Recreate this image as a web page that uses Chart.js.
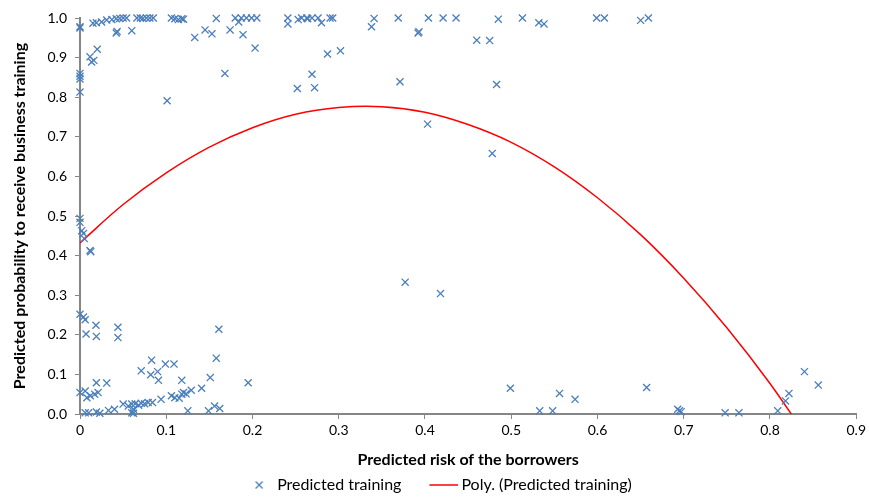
<!DOCTYPE html>
<html>
<head>
<meta charset="utf-8">
<script src="https://cdn.jsdelivr.net/npm/chart.js@4"></script>
<style>
html,body{margin:0;padding:0;background:#fff;}
#wrap{width:869px;height:501px;position:relative;}
</style>
</head>
<body>
<div id="wrap"><canvas id="c"></canvas></div>
<script>
// Predicted risk of the borrowers (x) and predicted probability to receive training (y)
const riskX = [
  0,0,0,0,0,0,
  0.0116,0.0135,0.016,0.020,
  0.015,0.019,0.025,0.031,0.037,0.042,0.046,0.050,0.054,0.066,0.070,0.073,0.077,0.081,0.085,0.106,0.110,0.114,0.118,0.120,0.158,0.180,0.184,0.187,0.193,0.199,0.205,
  0.042,0.043,0.060,0.101,0.133,0.145,0.153,0.168,0.174,0.189,0.203,
  0.241,0.241,0.252,0.253,0.257,0.263,0.264,0.269,0.269,0.272,0.276,0.280,0.287,0.290,0.293,0.302,
  0.338,0.341,0.369,0.371,0.392,0.393,0.403,0.404,0.421,0.436,0.460,0.475,0.478,0.483,0.485,0.513,0.532,0.538,0.599,0.608,0.650,0.659,
  0,0,0.002,0.004,0.005,0.0116,0.0125,0.377,0.418,
  0,0.004,0.006,0.007,0.0185,0.019,0.044,0.044,0.161,0.158,0.195,
  0,0.006,0.008,0.012,0.019,0.017,0.021,0.031,
  0.006,0.010,0.019,0.023,
  0.033,0.040,0.050,0.056,0.060,0.062,0.064,0.068,0.071,0.075,0.079,0.084,0.060,0.062,
  0.071,0.083,0.082,0.090,0.091,0.094,0.099,0.109,0.106,0.110,0.115,0.118,0.120,0.123,0.118,0.129,0.125,0.141,0.151,0.149,0.156,0.162,
  0.499,0.533,0.548,0.556,0.574,0.657,0.693,0.695,0.697,0.748,0.764,0.809,0.818,0.822,0.840,0.856
];
const probY = [
  0.978,0.975,0.860,0.853,0.846,0.813,
  0.902,0.889,0.893,0.921,
  0.987,0.988,0.990,0.995,0.996,0.998,0.999,1.000,1.000,1.000,1.000,0.999,1.000,1.000,1.000,1.000,0.998,0.996,0.998,0.997,0.999,1.000,0.990,1.000,1.000,1.000,1.000,
  0.962,0.966,0.968,0.791,0.951,0.970,0.960,0.860,0.970,0.958,0.924,
  1.000,0.985,0.822,0.996,1.000,1.000,0.998,1.000,0.858,0.824,1.000,0.988,0.909,1.000,1.000,0.917,
  0.978,0.999,1.000,0.839,0.962,0.965,0.732,1.000,1.000,1.000,0.944,0.943,0.658,0.832,0.997,1.000,0.988,0.985,1.000,1.000,0.994,1.000,
  0.494,0.484,0.463,0.456,0.443,0.413,0.410,0.333,0.304,
  0.252,0.245,0.238,0.202,0.224,0.196,0.219,0.193,0.214,0.141,0.079,
  0.054,0.058,0.041,0.046,0.079,0.050,0.054,0.078,
  0.003,0.003,0.005,0.002,
  0.009,0.012,0.025,0.020,0.025,0.012,0.026,0.022,0.027,0.026,0.029,0.029,0.003,0.002,
  0.109,0.136,0.099,0.107,0.085,0.037,0.126,0.126,0.046,0.041,0.040,0.050,0.054,0.051,0.085,0.060,0.008,0.065,0.092,0.008,0.020,0.014,
  0.065,0.008,0.008,0.052,0.037,0.067,0.012,0.008,0.006,0.003,0.003,0.008,0.033,0.052,0.107,0.073
];
// Poly. trendline, values
const trendX = [0,0.05,0.10,0.15,0.20,0.25,0.30,0.35,0.40,0.45,0.50,0.55,0.60,0.65,0.70,0.75,0.80,0.85];
const trendY = [0.432,0.529,0.609,0.674,0.723,0.757,0.774,0.776,0.762,0.731,0.686,0.624,0.546,0.453,0.343,0.218,0.077,-0.082];
const xTicks = [0,0.1,0.2,0.3,0.4,0.5,0.6,0.7,0.8,0.9];
const yTicks = [0,0.1,0.2,0.3,0.4,0.5,0.6,0.7,0.8,0.9,1.0];
const seriesNames = ['Predicted training','Poly. (Predicted training)'];

const BLUE = '#4a7ebb';
const RED = '#ff0000';
const AXIS = '#868686';
const FONT = 'Lato, "Open Sans", sans-serif';

function legendX(){
  const c = document.createElement('canvas'); c.width = 34; c.height = 14;
  const g = c.getContext('2d'); g.strokeStyle = BLUE; g.lineWidth = 1.3;
  const cx = 29, cy = 7, h = 3.5;
  g.beginPath(); g.moveTo(cx-h,cy-h); g.lineTo(cx+h,cy+h); g.moveTo(cx+h,cy-h); g.lineTo(cx-h,cy+h); g.stroke();
  return c;
}
function legendLine(){
  const c = document.createElement('canvas'); c.width = 54; c.height = 4;
  const g = c.getContext('2d'); g.strokeStyle = RED; g.lineWidth = 1.5;
  g.beginPath(); g.moveTo(25,2); g.lineTo(54,2); g.stroke();
  return c;
}
const legendImgs = [legendX(), legendLine()];

const scatterPts = riskX.map((x,i)=>({x:x, y:probY[i]}));
const trendPts = trendX.map((x,i)=>({x:x, y:trendY[i]}));

new Chart(document.getElementById('c'), {
  type: 'scatter',
  data: {
    datasets: [
      { label: seriesNames[0], data: scatterPts, pointStyle: 'crossRot', pointRadius: 5, pointHoverRadius: 5,
        borderColor: BLUE, backgroundColor: BLUE, pointBorderWidth: 1.3, showLine: false, clip: false },
      { label: seriesNames[1], data: trendPts, type: 'line', showLine: true, pointRadius: 0, borderColor: RED,
        backgroundColor: RED, borderWidth: 1.5, tension: 0.4, fill: false }
    ]
  },
  options: {
    responsive: true, maintainAspectRatio: false, animation: false,
    layout: { padding: { top: 18, right: 12, left: 0, bottom: -2 } },
    plugins: {
      tooltip: { enabled: false },
      legend: {
        position: 'bottom',
        labels: {
          usePointStyle: true, pointStyleWidth: 44, padding: 8,
          font: { family: FONT, size: 16 }, color: '#000',
          generateLabels: (chart) => chart.data.datasets.map((ds,i)=>({
            text: ds.label, pointStyle: legendImgs[i], fillStyle: ds.borderColor, strokeStyle: ds.borderColor,
            lineWidth: 0, hidden: false, datasetIndex: i
          }))
        }
      }
    },
    scales: {
      x: {
        type: 'linear', min: 0, max: 0.9,
        afterBuildTicks: (s) => { s.ticks = xTicks.map(v=>({value:v})); },
        afterFit: (s) => { s.height = 55; },
        grid: { drawOnChartArea: false, drawTicks: true, tickLength: 5, color: AXIS, lineWidth: 1 },
        border: { color: AXIS, width: 2 },
        ticks: { color: '#000', padding: 3, font: { family: FONT, size: 14 }, maxRotation: 0,
                 callback: (v) => v === 0 ? '0' : Number(v).toFixed(1) },
        title: { display: true, text: 'Predicted risk of the borrowers', color: '#000',
                 font: { family: FONT, size: 16, weight: 'bold' }, padding: { top: 0, bottom: 0 } }
      },
      y: {
        type: 'linear', min: 0, max: 1,
        afterBuildTicks: (s) => { s.ticks = yTicks.map(v=>({value:v})); },
        afterFit: (s) => { s.width = 80; },
        grid: { drawOnChartArea: false, drawTicks: true, tickLength: 5, color: AXIS, lineWidth: 1 },
        border: { color: AXIS, width: 2 },
        ticks: { color: '#000', padding: 8, font: { family: FONT, size: 14 },
                 callback: (v) => Number(v).toFixed(1) },
        title: { display: true, text: 'Predicted probability to receive business training', color: '#000',
                 font: { family: FONT, size: 16, weight: 'bold' }, padding: { top: 10, bottom: 0 } }
      }
    }
  }
});
</script>
</body>
</html>
